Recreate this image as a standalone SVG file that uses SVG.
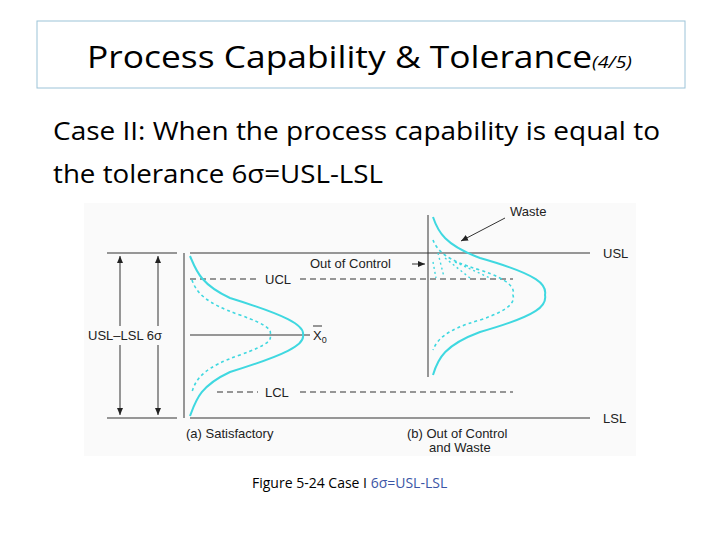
<svg xmlns="http://www.w3.org/2000/svg" width="720" height="540" viewBox="0 0 720 540">
<style>
.t{font-family:"Open Sans","Liberation Sans",sans-serif;fill:#000}
.f{font-family:"Liberation Sans",Arial,sans-serif;font-size:13px;fill:#222}
.ln{stroke:#333;stroke-width:1;fill:none}
.ds{stroke:#333;stroke-width:1;fill:none;stroke-dasharray:6 4}
.cs{stroke:#3fd8e0;stroke-width:2;fill:none}
.cd{stroke:#3fd8e0;stroke-width:1.6;fill:none;stroke-dasharray:3 3}
</style>
<defs>
<marker id="ah" markerWidth="8" markerHeight="8" refX="7" refY="4" orient="auto" markerUnits="userSpaceOnUse"><path d="M0,1 L7,4 L0,7 Z" fill="#222"/></marker>
</defs>
<rect width="720" height="540" fill="#fff"/>
<g id="title">
<rect x="37" y="21" width="648" height="67" fill="#fff" stroke="#9cc3d8" stroke-width="1"/>
<text class="t" x="87" y="68" font-size="31" textLength="505" lengthAdjust="spacingAndGlyphs">Process Capability &amp; Tolerance</text>
<text class="t" x="592" y="68" font-size="17" font-style="italic" textLength="40" lengthAdjust="spacingAndGlyphs">(4/5)</text>
</g>
<g id="body">
<text class="t" x="53" y="140" font-size="25" textLength="607" lengthAdjust="spacingAndGlyphs">Case II: When the process capability is equal to</text>
<text class="t" x="53" y="183" font-size="25" textLength="330" lengthAdjust="spacingAndGlyphs">the tolerance 6σ=USL-LSL</text>
</g>
<g id="figure">
<rect x="84" y="203" width="552" height="253" fill="#fafafa"/>
<g id="connectors">
<path class="ln" d="M107,253 H177 M190,253 H590"/>
<path class="ln" d="M107,418 H177 M190,418 H590"/>
<path class="ds" d="M190,279 H258 M300,279 H513"/>
<path class="ds" d="M217,392 H258 M300,392 H513"/>
<path class="ln" d="M190,335 H310"/>
<path class="ln" d="M184,253 V418"/>
<path class="ln" d="M428,215 V377"/>
<path class="ln" d="M120,326 V256" marker-end="url(#ah)"/>
<path class="ln" d="M120,345 V415" marker-end="url(#ah)"/>
<path class="ln" d="M158,326 V256" marker-end="url(#ah)"/>
<path class="ln" d="M158,345 V415" marker-end="url(#ah)"/>
<path class="ln" d="M505,218 L461,241" marker-end="url(#ah)"/>
<path class="ln" d="M412,264 H425" marker-end="url(#ah)"/>
</g>
<path class="cs" d="M190,256 C196,270 200,284 230,298 C285,315 305,325 303,335 C305,345 285,355 230,372 C200,386 196,400 190,416"/>
<path class="cd" d="M192,280 C196,292 205,303 240,315 C268,325 272,330 270,335 C272,340 268,345 240,355 C205,367 196,378 192,392"/>
<path class="cs" d="M433,217 C438,232 445,245 480,258 C540,275 547,285 545,295 C547,305 540,315 480,332 C445,345 438,358 433,375"/>
<path class="cd" d="M433,240 C437,250 445,260 480,270 C510,280 515,288 513,295 C515,302 510,310 480,320 C445,330 437,340 433,350"/>
<path d="M438,253 L444,277 M445,258 L470,278 M455,262 L490,278 M433,262 L436,278" stroke="#3fd8e0" stroke-width="1.4" stroke-dasharray="2 3" fill="none"/>
<text class="f" x="603" y="258">USL</text>
<text class="f" x="603" y="423">LSL</text>
<text class="f" x="265" y="284">UCL</text>
<text class="f" x="265" y="397">LCL</text>
<text class="f" x="313" y="340">X<tspan font-size="9" dy="3">0</tspan></text>
<path class="ln" d="M313,326 H322"/>
<text class="f" x="88" y="340">USL–LSL  6σ</text>
<text class="f" x="510" y="216">Waste</text>
<text class="f" x="310" y="268">Out of Control</text>
<text class="f" x="186" y="438">(a) Satisfactory</text>
<text class="f" x="407" y="438">(b) Out of Control</text>
<text class="f" x="429" y="452">and Waste</text>
</g>
<g id="caption">
<text class="t" x="252" y="488" font-size="14">Figure 5-24 Case I <tspan fill="#3b55a5">6σ=USL-LSL</tspan></text>
</g>
</svg>
